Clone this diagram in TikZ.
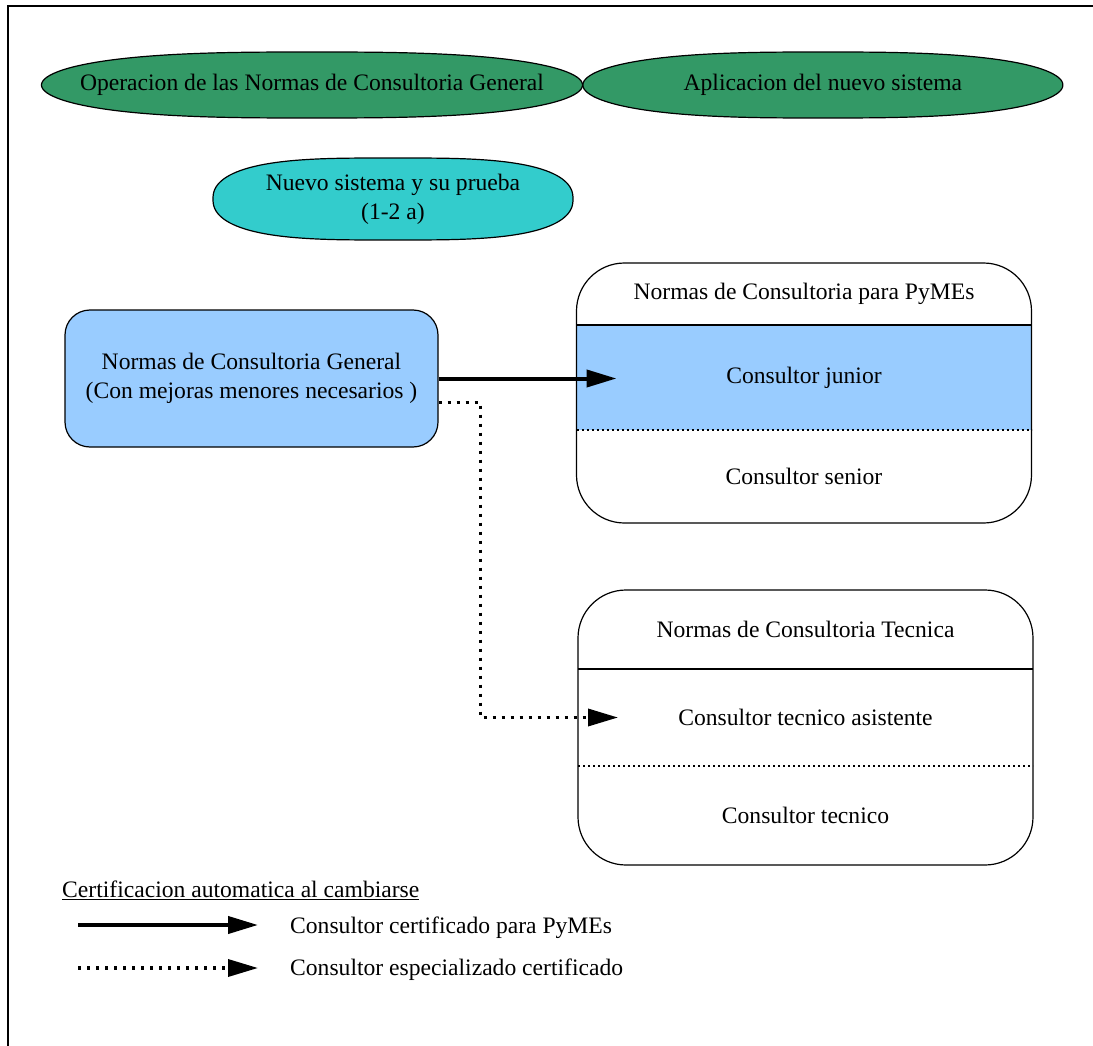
\documentclass[tikz,border=0pt]{standalone}
\usepackage{fontspec}
\setmainfont{Liberation Serif}
\usepackage{xcolor}
\usepackage{tikz}
\usetikzlibrary{arrows.meta,positioning,fit,backgrounds}

\definecolor{fasegreen}{HTML}{339966}
\definecolor{fasecyan}{HTML}{33CCCC}
\definecolor{rowblue}{HTML}{99CCFF}

% ovalo achatado detras de un nodo: {nodo}{semieje x}{semieje y}{color}{exp. x}{exp. y}
\newcommand{\ovalo}[6]{%
  \begin{pgfonlayer}{background}
    \filldraw[line width=1.2pt, fill=#4, shift={(#1.center)}]
      plot[domain=1.5:358.5, samples=120, smooth]
      ({#2*sign(cos(\x))*abs(cos(\x))^(#5)}, {#3*sign(sin(\x))*abs(sin(\x))^(#6)}) -- cycle;
  \end{pgfonlayer}}

\begin{document}
\begin{tikzpicture}[x=1pt, y=-1pt,
                font=\fontsize{23.6}{29}\selectfont,
                fase/.style={inner sep=0pt, minimum height=66pt, align=center},
                norma/.style={draw, rounded corners=25pt, line width=1.2pt, fill=rowblue, align=center, minimum width=373pt, minimum height=137pt},
                rubro/.style={inner sep=0pt, outer sep=0pt, minimum width=455pt},
                marco/.style={draw, rounded corners=48pt, line width=1.2pt, inner sep=0pt},
                divisor/.style={line width=2pt, dash pattern=on 2pt off 3pt},
                flecha/.style={line width=4pt, -{Triangle[length=30pt,width=17pt]}},
                flechapunt/.style={line width=3.5pt, dash pattern=on 3pt off 6pt, -{Triangle[length=30pt,width=17pt]}},
                leyenda/.style={anchor=west, inner sep=0pt}
            ]
            \useasboundingbox (0,0) rectangle (1093,1046);
            \draw[line width=2pt] (8,1070) -- (8,6) -- (1110,6);
            % fases
            \node[fase, minimum width=541pt] (operacion) at (312,85) {Operacion de las Normas de Consultoria General};
            \node[fase, minimum width=480pt, right=0pt of operacion] (aplicacion) {Aplicacion del nuevo sistema};
            \node[fase, minimum width=360pt, minimum height=82pt] (nuevo) at (393,199) {Nuevo sistema y su prueba\\(1-2 a)};
            \ovalo{operacion}{270.5}{33}{fasegreen}{0.7}{1}
            \ovalo{aplicacion}{240}{33}{fasegreen}{0.7}{1}
            \ovalo{nuevo}{180}{41}{fasecyan}{0.6}{0.85}
            % normas
            \node[norma] (general) at (251.5,378.5) {Normas de Consultoria General\\(Con mejoras menores necesarios )};
            \node[rubro, minimum height=62pt, anchor=north] (pymehead) at (804,263) {Normas de Consultoria para PyMEs};
            \node[rubro, fill=rowblue, minimum height=105pt, below=0pt of pymehead] (junior) {Consultor junior};
            \node[rubro, minimum height=93pt, below=0pt of junior] (senior) {Consultor senior};
            \node[marco, fit=(pymehead)(senior)] (pyme) {};
            \draw[line width=1.2pt] (pymehead.south west) -- (pymehead.south east);
            \draw[divisor] (junior.south west) -- (junior.south east);
            \node[rubro, minimum height=79pt, anchor=north] (tecnicahead) at (805.5,590) {Normas de Consultoria Tecnica};
            \node[rubro, minimum height=97pt, below=0pt of tecnicahead] (asistente) {Consultor tecnico asistente};
            \node[rubro, minimum height=99pt, below=0pt of asistente] (tecnico) {Consultor tecnico};
            \node[marco, fit=(tecnicahead)(tecnico)] (tecnica) {};
            \draw[line width=1.2pt] (tecnicahead.south west) -- (tecnicahead.south east);
            \draw[divisor] (asistente.south west) -- (asistente.south east);
            % conexiones
            \coordinate (salida) at ([yshift=-24pt]general.east);
            \draw[flecha] (general.east) -- ([xshift=40pt]junior.west |- general.east);
            \draw[flechapunt] (salida) -- ++(42,0) |- ([xshift=40pt]asistente.west);
            % leyenda
            \node[leyenda] (titulo) at (62,890) {\underline{Certificacion automatica al cambiarse}};
            \node[leyenda] (leysolida) at (290,928) {Consultor certificado para PyMEs};
            \node[leyenda] (leypunt) at (290,970) {Consultor especializado certificado};
            \draw[flecha] ([xshift=-212pt,yshift=3pt]leysolida.west) -- ([xshift=-32pt,yshift=3pt]leysolida.west);
            \draw[flechapunt] ([xshift=-212pt,yshift=2pt]leypunt.west) -- ([xshift=-32pt,yshift=2pt]leypunt.west);
        \end{tikzpicture}
\end{document}
